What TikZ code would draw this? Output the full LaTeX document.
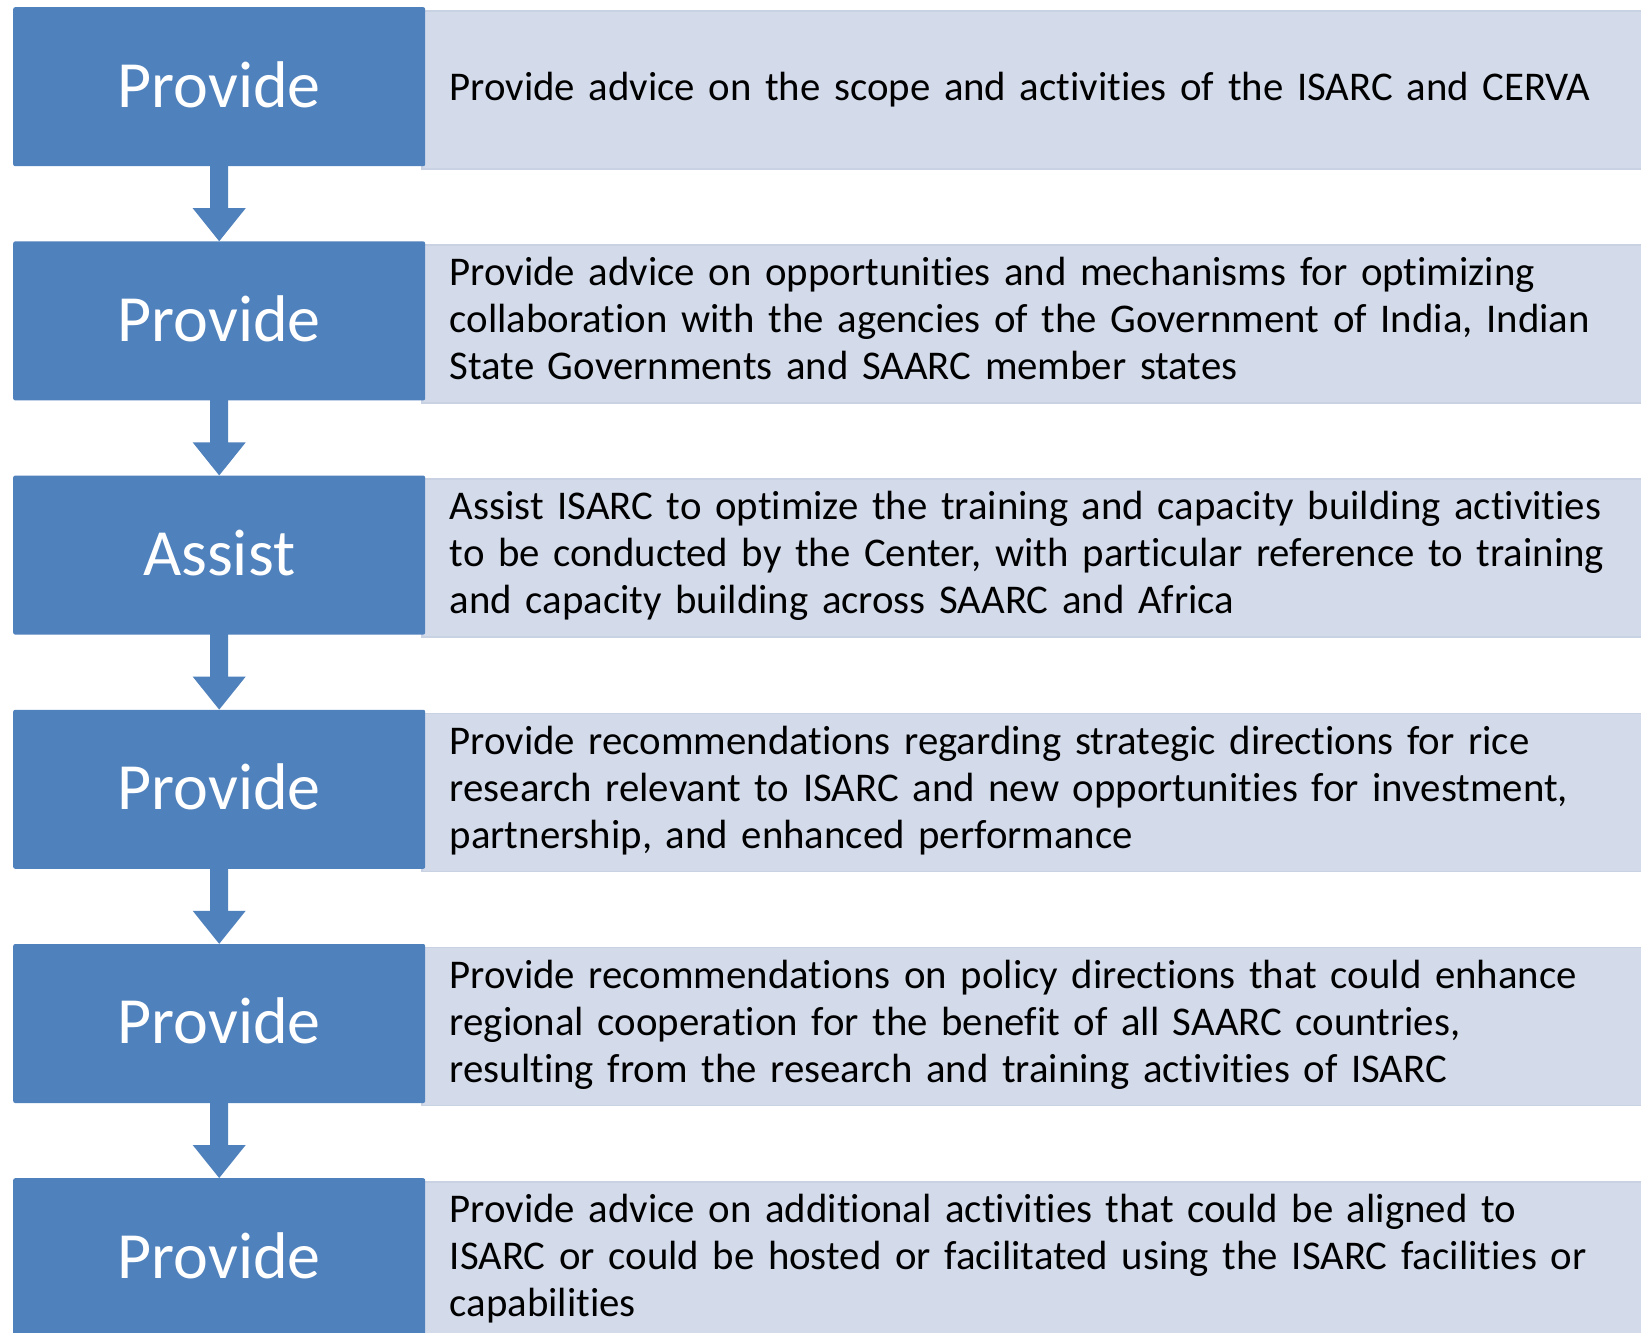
\documentclass[tikz,border=0pt]{standalone}
\usepackage{fontspec}
\setmainfont{Carlito}[RawFeature=-liga]
\definecolor{stepblue}{HTML}{4F81BD}
\definecolor{notegray}{HTML}{D3DBEA}
\definecolor{noteedge}{HTML}{C9D2E3}
\begin{document}
\begin{tikzpicture}[x=1pt,y=-1pt,
  stage/.style={fill=stepblue, text=white, minimum width=412pt, minimum height=159pt,
    inner sep=0pt, anchor=north west, rounded corners=2pt, text depth=5pt,
    font=\fontsize{66}{80}\selectfont},
  note/.style={fill=notegray, draw=noteedge, line width=1.5pt, anchor=north west,
    minimum height=158pt, text width=1200pt, inner xsep=28pt, inner ysep=0pt,
    align=left, font=\fontsize{40.8}{47}\selectfont},
  longnote/.style={note, text depth=105pt},
  flow/.style={fill=stepblue}
]
\clip (0,0) rectangle (1641,1333);
\fill[white] (0,0) rectangle (1641,1333);

% description panels (drawn first so the blue stages sit on top)
\node[note] (n1) at (421,10) {Provide advice on the scope and activities of the ISARC and CERVA};
\node[longnote] (n2) at (421,244.2) {Provide advice on opportunities and mechanisms for optimizing\\collaboration with the agencies of the Government of India, Indian\\State Governments and SAARC member states};
\node[longnote] (n3) at (421,478.4) {Assist ISARC to optimize the training and capacity building activities\\to be conducted by the Center, with particular reference to training\\and capacity building across SAARC and Africa};
\node[longnote] (n4) at (421,712.6) {Provide recommendations regarding strategic directions for rice\\research relevant to ISARC and new opportunities for investment,\\partnership, and enhanced performance};
\node[longnote] (n5) at (421,946.8) {Provide recommendations on policy directions that could enhance\\regional cooperation for the benefit of all SAARC countries,\\resulting from the research and training activities of ISARC};
\node[longnote] (n6) at (421,1181) {Provide advice on additional activities that could be aligned to\\ISARC or could be hosted or facilitated using the ISARC facilities or\\capabilities};

% stages
\node[stage] (s1) at (13,7) {Provide};
\node[stage] (s2) at (13,241.2) {Provide};
\node[stage] (s3) at (13,475.4) {Assist};
\node[stage] (s4) at (13,709.6) {Provide};
\node[stage] (s5) at (13,943.8) {Provide};
\node[stage] (s6) at (13,1178) {Provide};

% block arrows between stages
\foreach \a/\b in {s1/s2,s2/s3,s3/s4,s4/s5,s5/s6}{
  \fill[flow] ([xshift=-9pt,yshift=1pt]\a.south) -- ([xshift=9pt,yshift=1pt]\a.south)
    -- ([xshift=9pt,yshift=33pt]\b.north) -- ([xshift=26.5pt,yshift=33pt]\b.north)
    -- (\b.north) -- ([xshift=-26.5pt,yshift=33pt]\b.north)
    -- ([xshift=-9pt,yshift=33pt]\b.north) -- cycle;
}
\end{tikzpicture}
\end{document}
